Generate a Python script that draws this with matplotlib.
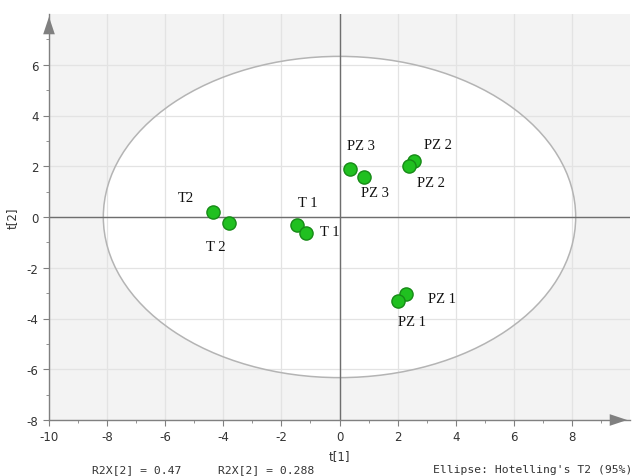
import matplotlib.pyplot as plt
from matplotlib.patches import Ellipse

plt.rcParams["axes.unicode_minus"] = False

# PCA score plot, t[1] vs t[2]
sample_names = ["T2", "T 2", "T 1", "T 1", "PZ 3", "PZ 3", "PZ 2", "PZ 2", "PZ 1", "PZ 1"]
t1_scores = [-4.34, -3.82, -1.45, -1.16, 0.37, 0.85, 2.57, 2.40, 2.29, 2.00]
t2_scores = [0.19, -0.24, -0.32, -0.63, 1.89, 1.56, 2.22, 2.02, -3.04, -3.31]

# Hotelling's T2 (95%) ellipse semi-axes
ellipse_a = 8.13
ellipse_b = 6.33

r2x_texts = ["R2X[2] = 0.47", "R2X[2] = 0.288"]
ellipse_note = "Ellipse: Hotelling's T2 (95%)"

# label offsets in pixels, one per sample
label_offsets = [(-28, 15), (-13, -23), (10, 23), (24, 1), (11, 24),
                 (11, -15), (24, 16), (22, -17), (36, -4), (14, -21)]

GRID = "#e3e3e3"
OUTSIDE = "#f3f3f3"
AXIS = "#808080"

fig = plt.figure(figsize=(6.41, 4.77), dpi=100)
ax = fig.add_axes([49 / 641, 1 - 421 / 477, (630 - 49) / 641, (421 - 15) / 477])
ax.set_xlim(-10, 10)
ax.set_ylim(-8, 8)
ax.set_facecolor(OUTSIDE)

ax.add_patch(Ellipse((0, 0), 2 * ellipse_a, 2 * ellipse_b, facecolor="white",
                     edgecolor="none", zorder=0.5))
ax.set_xticks(range(-10, 9, 2))
ax.set_yticks(range(-8, 7, 2))
ax.set_xticks(range(-10, 10), minor=True)
ax.set_yticks(range(-8, 8), minor=True)
ax.grid(True, which="major", color=GRID, linewidth=0.9, zorder=0.6)
ax.set_axisbelow(True)
ax.add_patch(Ellipse((0, 0), 2 * ellipse_a, 2 * ellipse_b, facecolor="none",
                     edgecolor="#b4b4b4", linewidth=1.1, zorder=1))

ax.axhline(0, color="#6e6e6e", linewidth=1.0, zorder=1.2)
ax.axvline(0, color="#6e6e6e", linewidth=1.0, zorder=1.2)

for side in ("top", "right"):
    ax.spines[side].set_visible(False)
for side in ("left", "bottom"):
    ax.spines[side].set_color(AXIS)
    ax.spines[side].set_linewidth(1.0)

ax.tick_params(which="major", length=4, color=AXIS, labelsize=8.5, labelcolor="#333333")
ax.tick_params(which="minor", length=2.5, color=AXIS)

# axis arrowheads, tip at the end of each axis
arrow_kw = dict(arrowstyle="-|>,head_length=0.9,head_width=0.3", color=AXIS,
                linewidth=0, mutation_scale=14)
ax.annotate("", xy=(0, 1), xytext=(0, 0.965), xycoords="axes fraction",
            arrowprops=arrow_kw, annotation_clip=False)
ax.annotate("", xy=(1, 0), xytext=(0.975, 0), xycoords="axes fraction",
            arrowprops=arrow_kw, annotation_clip=False)

ax.scatter(t1_scores, t2_scores, s=90, facecolor="#20c020", edgecolor="#178a17",
           linewidth=1.0, zorder=3)

for name, x, y, off in zip(sample_names, t1_scores, t2_scores, label_offsets):
    ax.annotate(name, (x, y), xytext=off, textcoords="offset pixels",
                ha="center", va="center", fontsize=10.5, family="Liberation Serif",
                color="#111111", zorder=4)

ax.set_xlabel("t[1]", fontsize=8.5, color="#333333", labelpad=4)
ax.set_ylabel("t[2]", fontsize=8.5, color="#333333", labelpad=6)

foot_y = 1 - 470 / 477
fig.text(137 / 641, foot_y, r2x_texts[0], family="DejaVu Sans Mono", fontsize=8.2,
         color="#333333", ha="center", va="center")
fig.text(266 / 641, foot_y, r2x_texts[1], family="DejaVu Sans Mono", fontsize=8.2,
         color="#333333", ha="center", va="center")
fig.text(433 / 641, foot_y, ellipse_note, family="DejaVu Sans Mono", fontsize=8.2,
         color="#333333", ha="left", va="center")

fig.savefig("out.png", dpi=100, facecolor="white")
